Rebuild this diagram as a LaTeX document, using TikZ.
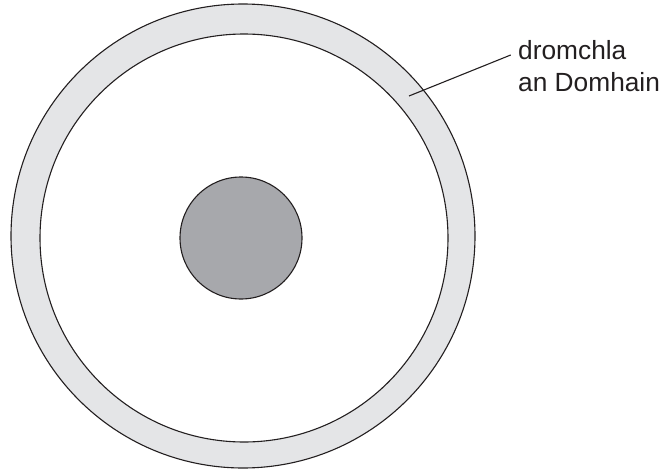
\documentclass[tikz,border=0pt]{standalone}
\usepackage{fontspec}
\setmainfont{Liberation Sans}
\definecolor{ringgray}{HTML}{E4E5E7}
\definecolor{coregray}{HTML}{A7A8AC}
\definecolor{ink}{HTML}{231F20}
\begin{document}
\begin{tikzpicture}[x=1pt,y=-1pt,
  edge/.style={draw=ink,line width=1.1pt},
  lab/.style={anchor=north west,inner sep=0pt,align=left,text=ink,font=\fontsize{26.3}{31.5}\selectfont}]
\useasboundingbox (0,0) rectangle (665,474);
\fill[white] (0,0) rectangle (665,474);
\path[edge,fill=ringgray] (243,236) circle[radius=232];
\path[edge,fill=white] (244,238) circle[radius=204];
\path[edge,fill=coregray] (241,238) circle[radius=61];
\node[lab] (t) at (518,40.3) {dromchla\\an Domhain};
\coordinate (p) at (409,96);
\coordinate (q) at (510.7,55);
\draw[edge] (p) -- (q);
\end{tikzpicture}
\end{document}
